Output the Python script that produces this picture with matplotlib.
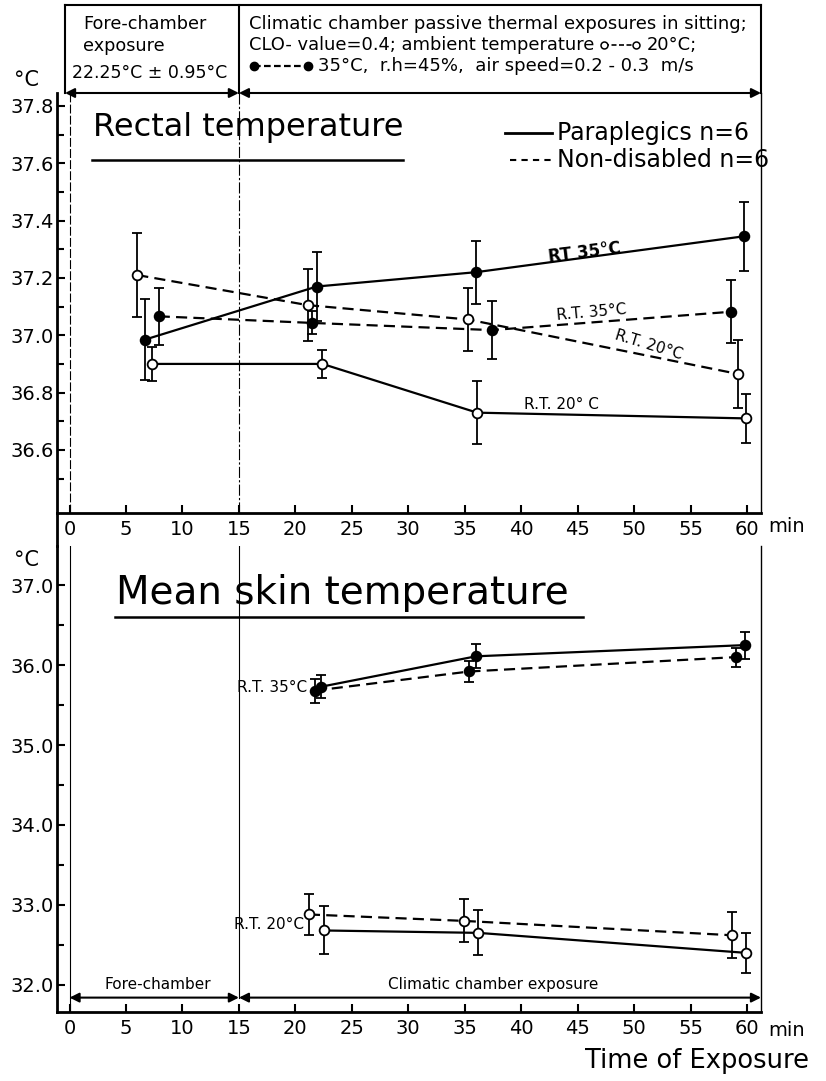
import matplotlib
matplotlib.use("Agg")
import numpy as np
import matplotlib.pyplot as plt
from matplotlib.lines import Line2D
from matplotlib.transforms import blended_transform_factory as btf

plt.rcParams['font.family'] = ['DejaVu Sans']

# ---------------- data: Rectal temperature (top panel) ----------------
rt_para20_t = [7.3, 22.4, 36.1, 59.9]
rt_para20_v = [36.90, 36.90, 36.73, 36.71]
rt_para20_e = [0.06, 0.05, 0.11, 0.085]

rt_nd20_t = [6.0, 21.1, 35.3, 59.2]
rt_nd20_v = [37.21, 37.105, 37.055, 36.865]
rt_nd20_e = [0.145, 0.125, 0.11, 0.12]

rt_para35_t = [6.7, 21.9, 36.0, 59.7]
rt_para35_v = [36.985, 37.17, 37.22, 37.345]
rt_para35_e = [0.14, 0.12, 0.11, 0.12]

rt_nd35_t = [7.9, 21.5, 37.4, 58.6]
rt_nd35_v = [37.066, 37.043, 37.018, 37.082]
rt_nd35_e = [0.10, 0.04, 0.10, 0.11]

# ---------------- data: Mean skin temperature (bottom panel) ----------------
sk_para35_t = [22.3, 36.0, 59.8]
sk_para35_v = [35.73, 36.11, 36.25]
sk_para35_e = [0.14, 0.15, 0.17]

sk_nd35_t = [21.7, 35.4, 59.0]
sk_nd35_v = [35.68, 35.92, 36.10]
sk_nd35_e = [0.15, 0.13, 0.12]

sk_para20_t = [22.5, 36.2, 59.9]
sk_para20_v = [32.68, 32.65, 32.40]
sk_para20_e = [0.30, 0.28, 0.25]

sk_nd20_t = [21.2, 34.9, 58.7]
sk_nd20_v = [32.88, 32.80, 32.62]
sk_nd20_e = [0.26, 0.27, 0.29]

x_ticks = list(range(0, 61, 5))
rt_ticks = [36.6, 36.8, 37.0, 37.2, 37.4, 37.6, 37.8]
sk_ticks = [32.0, 33.0, 34.0, 35.0, 36.0, 37.0]

# ---------------- figure layout (pixel based) ----------------
W, H = 826, 1081
fig = plt.figure(figsize=(W / 100, H / 100), dpi=100)


def fx(px):
    return px / W


def fy(py):
    return 1 - py / H


LEFT, RIGHT = 57, 761
T1, B1 = 93, 513
T2, B2 = 546, 1012
ax1 = fig.add_axes([fx(LEFT), fy(B1), (RIGHT - LEFT) / W, (B1 - T1) / H])
ax2 = fig.add_axes([fx(LEFT), fy(B2), (RIGHT - LEFT) / W, (B2 - T2) / H])
XLIM = (-1.11, 61.24)

DASH = (0, (5, 2.8))


def series(ax, t, v, e, dashed, filled):
    ax.errorbar(t, v, yerr=e, fmt='none', ecolor='k', elinewidth=1.3,
                capsize=3.5, capthick=1.3, zorder=2)
    ax.plot(t, v, color='k', lw=1.6, ls=DASH if dashed else '-', zorder=3)
    ax.plot(t, v, 'o', ms=7, mfc='k' if filled else 'white', mec='k',
            mew=1.3, zorder=4, ls='none')


for ax in (ax1, ax2):
    ax.set_xlim(*XLIM)
    ax.set_xticks(x_ticks)
    ax.set_xticklabels([str(v) for v in x_ticks])
    ax.spines['top'].set_visible(False)
    ax.spines['left'].set_linewidth(2.0)
    ax.spines['bottom'].set_linewidth(2.0)
    ax.spines['right'].set_linewidth(1.0)
    ax.tick_params(axis='both', which='major', direction='in', length=6,
                   width=1.5, labelsize=14)
    ax.tick_params(axis='y', which='minor', direction='in', length=5, width=1.5)
    ax.tick_params(axis='x', pad=5)
    ax.tick_params(axis='y', pad=2)
    ax.patch.set_alpha(0)

# ---- top panel ----
ax1.set_ylim(36.38, 37.845)
ax1.set_yticks(rt_ticks)
ax1.set_yticklabels([f"{v:.1f}" for v in rt_ticks])
ax1.set_yticks(np.arange(36.5, 37.75, 0.2), minor=True)

ax1.axvline(0, color='k', lw=0.8, ls=(0, (8, 2)), zorder=1)
ax1.axvline(15, color='k', lw=0.8, ls=(0, (10, 2, 2, 2)), zorder=1)

series(ax1, rt_para20_t, rt_para20_v, rt_para20_e, False, False)
series(ax1, rt_nd20_t, rt_nd20_v, rt_nd20_e, True, False)
series(ax1, rt_para35_t, rt_para35_v, rt_para35_e, False, True)
series(ax1, rt_nd35_t, rt_nd35_v, rt_nd35_e, True, True)

ax1.text(45.6, 37.29, 'RT 35°C', rotation=7, fontsize=12, ha='center',
         va='center', fontweight='bold')
ax1.text(46.2, 37.078, 'R.T. 35°C', rotation=5, fontsize=11, ha='center',
         va='center')
ax1.text(51.3, 36.966, 'R.T. 20°C', rotation=-17, fontsize=11, ha='center',
         va='center')
ax1.text(43.6, 36.758, 'R.T. 20° C', fontsize=11, ha='center', va='center')

# title + underline
ax1.text(2.1, 37.723, 'Rectal temperature', fontsize=23, ha='left', va='center')
ax1.plot([2.0, 29.5], [37.612, 37.612], color='k', lw=1.8)

# legend
ax1.plot([38.6, 42.7], [37.706, 37.706], color='k', lw=2.0)
ax1.text(43.2, 37.706, 'Paraplegics n=6', fontsize=17, ha='left', va='center')
ax1.plot([39.0, 42.7], [37.612, 37.612], color='k', lw=1.5, ls=(0, (3, 2.5)))
ax1.text(43.2, 37.612, 'Non-disabled n=6', fontsize=17, ha='left', va='center')

# header arrows (top of top panel)
ak = dict(arrowstyle='<|-|>', lw=1.5, color='k', shrinkA=0, shrinkB=0,
          mutation_scale=14)
ax1.annotate('', xy=(15, 1), xytext=(-0.4, 1),
             xycoords=('data', 'axes fraction'),
             textcoords=('data', 'axes fraction'), arrowprops=ak)
ax1.annotate('', xy=(XLIM[1], 1), xytext=(15, 1),
             xycoords=('data', 'axes fraction'),
             textcoords=('data', 'axes fraction'), arrowprops=ak)

# header box
bt = btf(ax1.transData, fig.transFigure)
ytop = fy(5)
yax = fy(T1)
for xs, ys in [([-0.4, XLIM[1]], [ytop, ytop]),
               ([-0.4, -0.4], [yax, ytop]),
               ([15, 15], [yax, ytop]),
               ([XLIM[1], XLIM[1]], [yax, ytop])]:
    ax1.add_line(Line2D(xs, ys, transform=bt, color='k', lw=1.5,
                        clip_on=False))

fig.text(fx(83), fy(24), 'Fore-chamber', fontsize=12.7, ha='left', va='center')
fig.text(fx(83), fy(46), 'exposure', fontsize=12.7, ha='left', va='center')
fig.text(fx(72), fy(73), '22.25°C ± 0.95°C', fontsize=12.5, ha='left',
         va='center')

x0 = fx(249)
fig.text(x0, fy(24), 'Climatic chamber passive thermal exposures in sitting;',
         fontsize=13.0, ha='left', va='center')
t2 = fig.text(x0, fy(45), 'CLO- value=0.4; ambient temperature',
              fontsize=12.9, ha='left', va='center')
fig.canvas.draw()
rend = fig.canvas.get_renderer()
e2 = t2.get_window_extent(rend).x1
sym2 = Line2D([(e2 + 10) / W, (e2 + 42) / W], [fy(45), fy(45)],
              transform=fig.transFigure, color='k', lw=1.2, ls=(0, (3, 1.5)),
              marker='o', ms=5, mfc='white', mec='k', mew=1.1)
fig.add_artist(sym2)
fig.text((e2 + 52) / W, fy(45), '20°C;', fontsize=12.9, ha='left', va='center')

sym3 = Line2D([fx(254), fx(308)], [fy(66), fy(66)], transform=fig.transFigure,
              color='k', lw=1.6, ls=(0, (3, 1.5)), marker='o', ms=6, mfc='k',
              mec='k')
fig.add_artist(sym3)
fig.text(fx(318), fy(66), '35°C,  r.h=45%,  air speed=0.2 - 0.3  m/s',
         fontsize=13, ha='left', va='center')

# degree labels and 'min'
fig.text(fx(26), fy(80), '°C', fontsize=15, ha='center', va='center')
fig.text(fx(26), fy(560), '°C', fontsize=15, ha='center', va='center')
fig.text(fx(787), fy(526), 'min', fontsize=14, ha='center', va='center')
fig.text(fx(787), fy(1030), 'min', fontsize=14, ha='center', va='center')

# connect left spine between panels
fig.add_artist(Line2D([fx(LEFT), fx(LEFT)], [fy(B1), fy(T2)],
                      transform=fig.transFigure, color='k', lw=2.0))

# ---- bottom panel ----
ax2.set_ylim(31.66, 37.49)
ax2.set_yticks(sk_ticks)
ax2.set_yticklabels([f"{v:.1f}" for v in sk_ticks])
ax2.set_yticks(np.arange(32.5, 37.0, 1.0), minor=True)

ax2.axvline(0, color='k', lw=0.8, zorder=1)
ax2.plot([15, 15], [31.84, 37.49], color='k', lw=0.8, zorder=1)

series(ax2, sk_para35_t, sk_para35_v, sk_para35_e, False, True)
series(ax2, sk_nd35_t, sk_nd35_v, sk_nd35_e, True, True)
series(ax2, sk_para20_t, sk_para20_v, sk_para20_e, False, False)
series(ax2, sk_nd20_t, sk_nd20_v, sk_nd20_e, True, False)

ax2.text(21.0, 35.72, 'R.T. 35°C', fontsize=11, ha='right', va='center')
ax2.text(20.8, 32.76, 'R.T. 20°C', fontsize=11, ha='right', va='center')

ax2.text(4.1, 36.9, 'Mean skin temperature', fontsize=28, ha='left',
         va='center')
ax2.plot([4.0, 45.5], [36.606, 36.606], color='k', lw=1.8)

ax2.annotate('', xy=(15, 31.84), xytext=(0, 31.84), arrowprops=ak)
ax2.annotate('', xy=(XLIM[1], 31.84), xytext=(15, 31.84), arrowprops=ak)
ax2.text(7.8, 32.0, 'Fore-chamber', fontsize=11, ha='center', va='center')
ax2.text(37.5, 32.0, 'Climatic chamber exposure', fontsize=11, ha='center',
         va='center')

fig.text(fx(697), fy(1061), 'Time of Exposure', fontsize=18.5, ha='center',
         va='center')

fig.savefig('out.png', dpi=100)
